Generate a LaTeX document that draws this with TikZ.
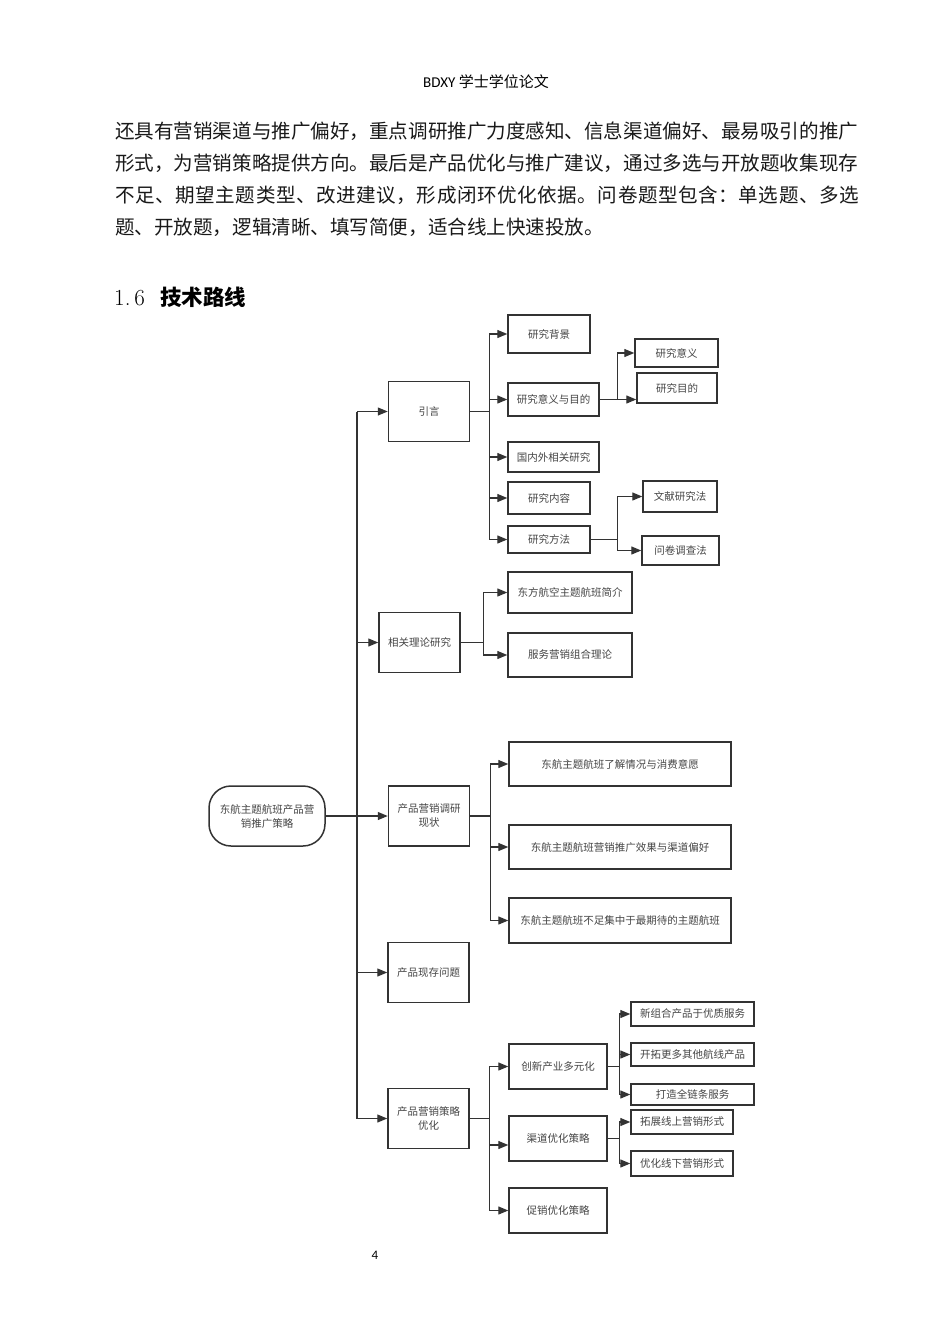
\documentclass[tikz,border=0pt]{standalone}
\usepackage{fontspec}
\usepackage{xcolor}
\definecolor{gristrait}{HTML}{333333}
\definecolor{gristexte}{HTML}{454545}
\usepackage{tikz}
\usetikzlibrary{calc,positioning,arrows.meta,shapes}
\newfontfamily\cjk{Noto Sans CJK SC}
\newfontfamily\lat{Carlito}
\tikzset{
    racine/.style={rectangle, rounded corners=22pt, draw=gristrait, line width=1.5pt, text=gristexte, align=center, font=\cjk\fontsize{10.5}{14}\selectfont, minimum width=116pt, minimum height=60pt, inner sep=2pt},
    chap/.style={rectangle, draw=gristrait, line width=1.5pt, text=gristexte, align=center, font=\cjk\fontsize{10.5}{14}\selectfont, minimum width=81pt, minimum height=60pt, inner sep=1pt},
    sect/.style={rectangle, draw=gristrait, line width=1.4pt, text=gristexte, align=center, font=\cjk\fontsize{10.5}{14}\selectfont, inner sep=1pt},
    line/.style={draw=gristrait, line width=1.2pt, -{Triangle[length=10pt,width=8pt]}},
    tronc/.style={draw=gristrait, line width=1.2pt},
    corps/.style={anchor=west, inner sep=0pt, font=\cjk\fontsize{19.55}{22}\selectfont, text=black!90},
}
\begin{document}
\begin{tikzpicture}[x=1pt,y=-1pt]
    \useasboundingbox[fill=white] (0,0) rectangle (950,1344);

    \node[font=\fontsize{15}{18}\selectfont] (entete) at (486,82) {\lat BDXY \cjk 学士学位论文};
    \node[corps] (l1) at (115,131) {还具有营销渠道与推广偏好，重点调研推广力度感知、信息渠道偏好、最易吸引的推广};
    \node[corps] (l2) at (115,163) {形式，为营销策略提供方向。最后是产品优化与推广建议，通过多选与开放题收集现存};
    \node[corps] (l3) at (115,195) {\addfontfeature{LetterSpace=2.9}不足、期望主题类型、改进建议，形成闭环优化依据。问卷题型包含：单选题、多选};
    \node[corps] (l4) at (115,227) {题、开放题，逻辑清晰、填写简便，适合线上快速投放。};
    \node[anchor=west, inner sep=0pt] (titre) at (114,297) {\makebox[46pt][l]{\fontsize{23}{26}\selectfont 1.\kern4pt 6}{\cjk\bfseries\fontsize{21.5}{24}\selectfont 技术路线}};

    \node[racine] (root) at (267,816) {东航主题航班产品营\\销推广策略};
    \node[chap] (intro) at (429,411.5) {引言};
    \node[chap] (theo) at (419.5,642.5) {相关理论研究};
    \node[chap] (etat) at (429,816) {产品营销调研\\现状};
    \node[chap] (prob) at (428.5,972.5) {产品现存问题};
    \node[chap] (strat) at (428.5,1118.5) {产品营销策略\\优化};

    \node[sect, minimum width=82pt, minimum height=38pt] (fond) at (549,334) {研究背景};
    \node[sect, minimum width=91pt, minimum height=33pt] (sens) at (553.5,399.5) {研究意义与目的};
    \node[sect, minimum width=91pt, minimum height=30pt] (etr) at (553.5,457) {国内外相关研究};
    \node[sect, minimum width=82pt, minimum height=32pt] (cont) at (549,498) {研究内容};
    \node[sect, minimum width=82pt, minimum height=27pt] (meth) at (549,539.5) {研究方法};
    \node[sect, minimum width=83pt, minimum height=28pt] (yiyi) at (676.5,353) {研究意义};
    \node[sect, minimum width=80pt, minimum height=30pt] (mudi) at (677,388) {研究目的};
    \node[sect, minimum width=74pt, minimum height=31pt] (wenx) at (680,496.5) {文献研究法};
    \node[sect, minimum width=77pt, minimum height=29pt] (wenj) at (680.5,550.5) {问卷调查法};

    \node[sect, minimum width=124pt, minimum height=41pt] (jianj) at (570,592.5) {东方航空主题航班简介};
    \node[sect, minimum width=124pt, minimum height=44pt] (zuhe) at (570,655) {服务营销组合理论};

    \node[sect, minimum width=222pt, minimum height=44pt] (liaoj) at (620,764) {东航主题航班了解情况与消费意愿};
    \node[sect, minimum width=222pt, minimum height=44pt] (xiaog) at (620,847) {东航主题航班营销推广效果与渠道偏好};
    \node[sect, minimum width=222pt, minimum height=45pt] (buzu) at (620,920.5) {东航主题航班不足集中于最期待的主题航班};

    \node[sect, minimum width=98pt, minimum height=45pt] (chuang) at (558,1066.5) {创新产业多元化};
    \node[sect, minimum width=98pt, minimum height=45pt] (qudao) at (558,1138.5) {渠道优化策略};
    \node[sect, minimum width=98pt, minimum height=45pt] (cuxiao) at (558,1210.5) {促销优化策略};
    \node[sect, minimum width=123pt, minimum height=24pt] (xinzu) at (692.5,1014) {新组合产品于优质服务};
    \node[sect, minimum width=123pt, minimum height=23pt] (kaituo) at (692.5,1054.5) {开拓更多其他航线产品};
    \node[sect, minimum width=123pt, minimum height=21pt] (dazao) at (692.5,1094.5) {打造全链条服务};
    \node[sect, minimum width=102pt, minimum height=24pt] (xians) at (682,1122) {拓展线上营销形式};
    \node[sect, minimum width=102pt, minimum height=25pt] (xianx) at (682,1163.5) {优化线下营销形式};

    \node[font=\lat\fontsize{13}{15}\selectfont] (page) at (375,1255) {4};

    \coordinate (t) at (357,816);
    \coordinate (b1) at ([xshift=19pt]intro.east);
    \coordinate (b2) at ([xshift=18pt]sens.east);
    \coordinate (b3) at ([xshift=27pt]meth.east);
    \coordinate (b4) at ([xshift=23pt]theo.east);
    \coordinate (b5) at ([xshift=20pt]etat.east);
    \coordinate (b6) at ([xshift=20pt]strat.east);
    \coordinate (b7) at ([xshift=12pt]chuang.east);
    \coordinate (b8) at ([xshift=12pt]qudao.east);

    \begin{scope}[every path/.style=tronc]
      \path[line width=2pt] (root.east) -- (t);
      \path (t |- intro.west) -- (t |- strat.west);
      \path (intro.east) -- (b1);
      \path (meth.east) -- (b3);
      \path (theo.east) -- (b4);
      \path (etat.east) -- (b5);
      \path (strat.east) -- (b6);
      \path (chuang.east) -- (b7);
      \path (qudao.east) -- (b8);
    \end{scope}

    \foreach \n in {intro,theo,etat,prob,strat} \path[line] (t |- \n.west) -- (\n.west);
    \foreach \n in {fond,sens,etr,cont,meth} \path[line] (b1) |- (\n.west);
    \path[line] (sens.east) -- (sens.east -| mudi.west);
    \path[line] (b2) |- (yiyi.west);
    \foreach \n in {wenx,wenj} \path[line] (b3) |- (\n.west);
    \foreach \n in {jianj,zuhe} \path[line] (b4) |- (\n.west);
    \foreach \n in {liaoj,xiaog,buzu} \path[line] (b5) |- (\n.west);
    \foreach \n in {chuang,cuxiao} \path[line] (b6) |- (\n.west);
    \path[line] (b6) |- ([yshift=-6.5pt]qudao.west);
    \foreach \n in {xinzu,kaituo,dazao} \path[line] (b7) |- (\n.west);
    \foreach \n in {xians,xianx} \path[line] (b8) |- (\n.west);
\end{tikzpicture}
\end{document}
